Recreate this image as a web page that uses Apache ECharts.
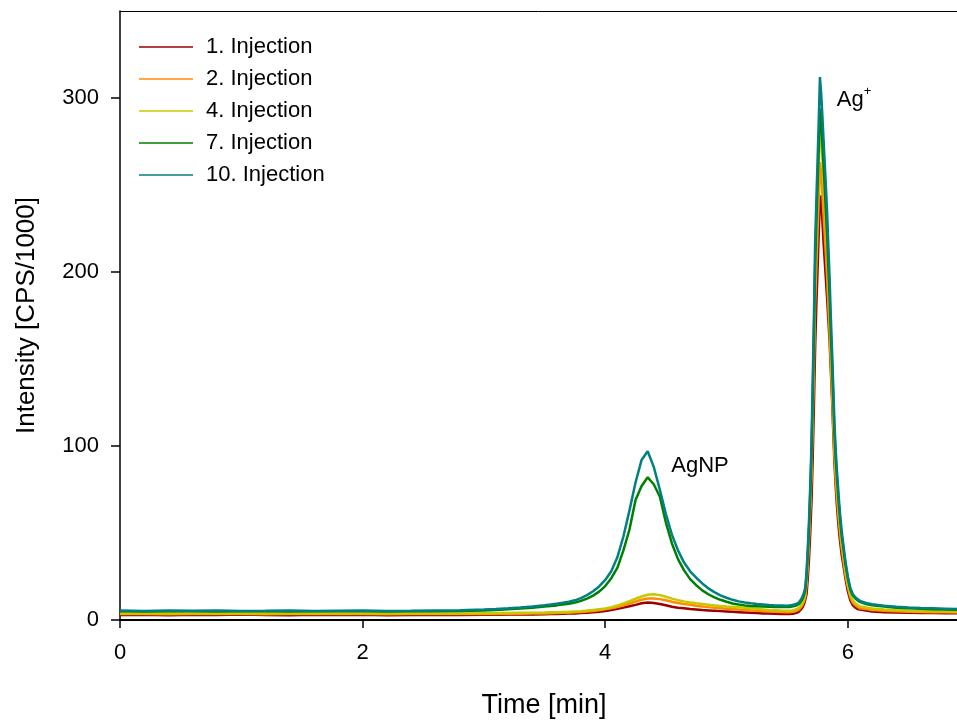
<!DOCTYPE html>
<html>
<head>
<meta charset="utf-8">
<script src="https://cdn.jsdelivr.net/npm/echarts@6/dist/echarts.min.js"></script>
<style>
html,body{margin:0;padding:0;background:#fff;}
#chart{width:957px;height:724px;}
</style>
</head>
<body>
<div id="chart"></div>
<script>
// Shared time axis (min)
const times = [
  0, 0.2, 0.4, 0.6, 0.8, 1.0, 1.2, 1.4, 1.6, 1.8, 2.0, 2.2, 2.4, 2.6, 2.8, 3.0,
  3.1, 3.2, 3.3, 3.4, 3.5,
  3.55, 3.6, 3.65, 3.7, 3.75, 3.8, 3.85, 3.9, 3.95, 4.0,
  4.05, 4.1, 4.15, 4.2, 4.25, 4.3, 4.35, 4.4, 4.45, 4.5,
  4.55, 4.6, 4.65, 4.7, 4.75, 4.8, 4.85, 4.9, 4.95, 5.0,
  5.05, 5.1, 5.15, 5.2, 5.25, 5.3, 5.35, 5.4, 5.45, 5.5,
  5.52, 5.54, 5.56, 5.58, 5.6, 5.62,
  5.63, 5.64, 5.65, 5.66, 5.67, 5.68, 5.69, 5.7,
  5.71, 5.72, 5.73, 5.74, 5.75, 5.76, 5.77, 5.78, 5.79, 5.8,
  5.81, 5.82, 5.83, 5.84, 5.85, 5.86, 5.87, 5.88, 5.89, 5.9,
  5.91, 5.92, 5.93, 5.94, 5.95, 5.96,
  5.98, 6.0, 6.02, 6.04, 6.06, 6.08, 6.1,
  6.15, 6.2, 6.3, 6.4, 6.5, 6.6, 6.7, 6.8, 6.9
];

const injection1 = [
  2.9, 3.0, 2.8, 3.0, 2.9, 3.1, 2.9, 2.8, 3.0, 2.9, 3.0, 2.8, 2.9, 3.0, 2.9, 3.0,
  3.0, 3.1, 3.1, 3.2, 3.3,
  3.4, 3.5, 3.6, 3.7, 3.8, 4.0, 4.2, 4.5, 4.8, 5.2,
  5.7, 6.4, 7.1, 7.9, 8.7, 9.6, 10.0, 9.8, 9.2, 8.5,
  7.6, 7.1, 6.7, 6.3, 6.0, 5.7, 5.5, 5.3, 5.1, 4.9,
  4.7, 4.5, 4.3, 4.1, 4.0, 3.8, 3.7, 3.6, 3.5, 3.4,
  3.4, 3.6, 3.8, 4.2, 5.0, 6.6,
  7.8, 9.4, 11.8, 15, 24, 35, 50, 67,
  92, 122, 155, 180, 200, 222, 241, 244, 230, 217,
  206, 195, 184, 172, 160, 143, 127, 108, 90, 77,
  66, 57, 49, 43, 37, 33,
  24, 16.5, 11.4, 8.6, 7.2, 6.3, 6.0,
  5.4, 4.9, 4.5, 4.3, 4.1, 4.0, 4.0, 3.9, 3.9
];

const injection2 = [
  3.4, 3.5, 3.3, 3.4, 3.5, 3.4, 3.3, 3.5, 3.4, 3.4, 3.5, 3.3, 3.4, 3.5, 3.4, 3.5,
  3.5, 3.6, 3.6, 3.7, 3.8,
  3.9, 4.0, 4.1, 4.2, 4.4, 4.6, 4.9, 5.2, 5.6, 6.1,
  6.7, 7.5, 8.5, 9.5, 10.6, 11.6, 12.3, 12.4, 12.0, 11.3,
  10.5, 9.8, 9.2, 8.7, 8.2, 7.8, 7.4, 7.1, 6.8, 6.5,
  6.3, 6.0, 5.8, 5.5, 5.3, 5.1, 4.9, 4.7, 4.6, 4.5,
  4.5, 4.7, 4.9, 5.4, 6.2, 8.0,
  9.3, 11.0, 13.6, 21, 32, 46, 63, 83,
  113, 144, 181, 202, 222, 242, 263, 258, 245, 233,
  221, 209, 196, 180, 165, 146, 130, 112, 94, 81,
  71, 62, 54, 47, 41, 36,
  26, 19, 13.2, 10.1, 8.6, 7.6, 6.7,
  6.3, 5.8, 5.3, 5.0, 4.8, 4.6, 4.5, 4.4, 4.3
];

const injection4 = [
  3.8, 3.7, 3.9, 3.8, 3.7, 3.8, 3.9, 3.7, 3.8, 3.8, 3.7, 3.8, 3.9, 3.8, 3.8, 3.9,
  3.9, 4.0, 4.1, 4.2, 4.3,
  4.4, 4.5, 4.6, 4.7, 4.9, 5.1, 5.4, 5.8, 6.2, 6.6,
  7.3, 8.3, 9.5, 10.8, 12.2, 13.5, 14.5, 14.8, 14.3, 13.4,
  12.3, 11.4, 10.7, 10.1, 9.6, 9.2, 8.8, 8.4, 8.0, 7.7,
  7.5, 7.3, 7.0, 6.7, 6.4, 6.1, 5.8, 5.6, 5.4, 5.3,
  5.3, 5.5, 5.8, 6.3, 7.2, 9.1,
  10.4, 12.2, 15, 23, 35, 50, 68, 89,
  121, 155, 194, 217, 238, 259, 285, 280, 266, 252,
  237, 224, 211, 193, 177, 157, 140, 120, 101, 87,
  76, 67, 58, 51, 44, 39,
  29, 20.5, 14.5, 11.3, 9.7, 8.6, 7.7,
  7.2, 6.6, 6.0, 5.6, 5.3, 5.1, 5.0, 4.9, 4.8
];

const injection7 = [
  5.0, 4.9, 5.1, 5.0, 4.9, 5.0, 5.1, 4.9, 5.0, 5.1, 5.0, 4.9, 5.0, 5.1, 5.2, 5.5,
  5.8, 6.2, 6.6, 7.1, 7.7,
  8.0, 8.4, 8.9, 9.4, 10.0, 11.0, 12.3, 14.0, 16.3, 19.5,
  24, 30, 40, 52, 69, 77, 82, 78, 71, 56,
  44, 35, 28.5, 23.5, 20, 17, 14.8, 13, 11.6, 10.5,
  9.5, 8.9, 8.4, 8.1, 7.9, 7.7, 7.6, 7.5, 7.4, 7.4,
  7.5, 7.7, 8.0, 8.5, 9.4, 11.3,
  12.7, 14.6, 17.4, 26, 38, 53, 72, 94,
  127, 162, 203, 227, 248, 270, 294, 287, 274, 261,
  248, 234, 220, 202, 185, 165, 147, 127, 107, 93,
  82, 72, 63, 55, 48, 43,
  32, 24, 17.5, 14.2, 12.5, 11.3, 10.4,
  9.2, 8.5, 7.7, 7.1, 6.7, 6.4, 6.2, 6.0, 5.9
];

const injection10 = [
  5.4, 5.2, 5.5, 5.3, 5.4, 5.2, 5.3, 5.5, 5.2, 5.3, 5.4, 5.2, 5.3, 5.5, 5.6, 6.0,
  6.3, 6.7, 7.2, 7.8, 8.5,
  8.9, 9.4, 9.9, 10.5, 11.3, 12.6, 14.3, 16.5, 19.3, 23,
  28, 36, 48, 63, 79, 92, 97, 88, 75, 61,
  49, 40, 33, 28, 24.3, 21, 18.2, 16, 14.2, 12.8,
  11.6, 10.7, 10.1, 9.6, 9.2, 8.9, 8.6, 8.4, 8.3, 8.2,
  8.4, 8.6, 8.9, 9.4, 10.4, 12.5,
  14, 16, 19, 28, 41, 57, 77, 100,
  135, 172, 215, 240, 263, 286, 312, 303, 290, 276,
  262, 248, 233, 214, 196, 174, 155, 134, 113, 98,
  86, 76, 66, 58, 51, 45,
  34, 25, 18.5, 15, 13.2, 12, 11,
  9.8, 9.0, 8.2, 7.6, 7.2, 6.9, 6.7, 6.5, 6.3
];

const seriesNames = ['1. Injection', '2. Injection', '4. Injection', '7. Injection', '10. Injection'];
const seriesValues = [injection1, injection2, injection4, injection7, injection10];
const seriesColors = ['#990000', '#ff8c00', '#c8c800', '#008000', '#008080'];

const xTicks = [0, 2, 4, 6];
const yTicks = [0, 100, 200, 300];

const annotations = [
  { coord: [4.54, 89.5], text: '{m|AgNP}' },
  { coord: [5.905, 300], text: '{m|Ag}{s|+}' }
];

const FONT = 'Liberation Sans, Arial, Helvetica, sans-serif';

const chart = echarts.init(document.getElementById('chart'), null, { renderer: 'canvas' });

const series = seriesNames.map((name, k) => {
  const s = {
    name: name,
    type: 'line',
    data: times.map((t, i) => [t, seriesValues[k][i]]),
    symbol: 'none',
    showSymbol: false,
    lineStyle: { color: seriesColors[k], width: 2.5 },
    itemStyle: { color: seriesColors[k] },
    emphasis: { disabled: true },
    silent: true,
    animation: false
  };
  if (k === seriesNames.length - 1) {
    s.markPoint = {
      symbol: 'circle',
      symbolSize: 1,
      itemStyle: { color: 'rgba(0,0,0,0)' },
      silent: true,
      animation: false,
      label: {
        show: true,
        position: 'right',
        distance: 0,
        color: '#000',
        fontFamily: FONT,
        fontSize: 22,
        rich: {
          m: { fontSize: 22, fontFamily: FONT, color: '#000', lineHeight: 26, verticalAlign: 'bottom' },
          s: { fontSize: 13, fontFamily: FONT, color: '#000', lineHeight: 13, verticalAlign: 'top' }
        }
      },
      data: annotations.map(a => ({ coord: a.coord, label: { formatter: a.text } }))
    };
  }
  return s;
});

chart.setOption({
  animation: false,
  backgroundColor: '#fff',
  grid: { left: 120, right: 0, top: 11, bottom: 103, containLabel: false },
  legend: {
    orient: 'vertical',
    left: 134,
    top: 31,
    icon: 'rect',
    itemWidth: 54,
    itemHeight: 1.5,
    itemGap: 10,
    data: seriesNames,
    textStyle: { fontFamily: FONT, fontSize: 22, lineHeight: 22, color: '#000', padding: [0, 0, 0, 8] },
    selectedMode: false
  },
  xAxis: [
    {
      type: 'value',
      min: 0,
      max: 6.9,
      position: 'bottom',
      name: 'Time [min]',
      nameLocation: 'middle',
      nameGap: 72,
      nameTextStyle: { fontFamily: FONT, fontSize: 27, color: '#000', padding: [0, 0, 0, 11] },
      axisLine: { show: true, onZero: false, lineStyle: { color: '#000', width: 2 } },
      axisTick: { show: true, inside: false, length: 8, lineStyle: { color: '#000', width: 1.5 }, customValues: xTicks },
      axisLabel: { show: true, margin: 22, fontFamily: FONT, fontSize: 22, color: '#000', customValues: xTicks },
      splitLine: { show: false }
    },
    {
      type: 'value',
      min: 0,
      max: 6.9,
      position: 'top',
      axisLine: { show: true, onZero: false, lineStyle: { color: '#000', width: 1 } },
      axisTick: { show: false },
      axisLabel: { show: false },
      splitLine: { show: false }
    }
  ],
  yAxis: {
    type: 'value',
    min: 0,
    max: 350,
    name: 'Intensity [CPS/1000]',
    nameLocation: 'middle',
    nameGap: 80,
    nameTextStyle: { fontFamily: FONT, fontSize: 26, color: '#000' },
    axisLine: { show: true, onZero: false, lineStyle: { color: '#000', width: 1.5 } },
    axisTick: { show: true, inside: false, length: 9, lineStyle: { color: '#000', width: 1.5 }, customValues: yTicks },
    axisLabel: { show: true, margin: 21, fontFamily: FONT, fontSize: 22, color: '#000', customValues: yTicks },
    splitLine: { show: false }
  },
  series: series
});
</script>
</body>
</html>
